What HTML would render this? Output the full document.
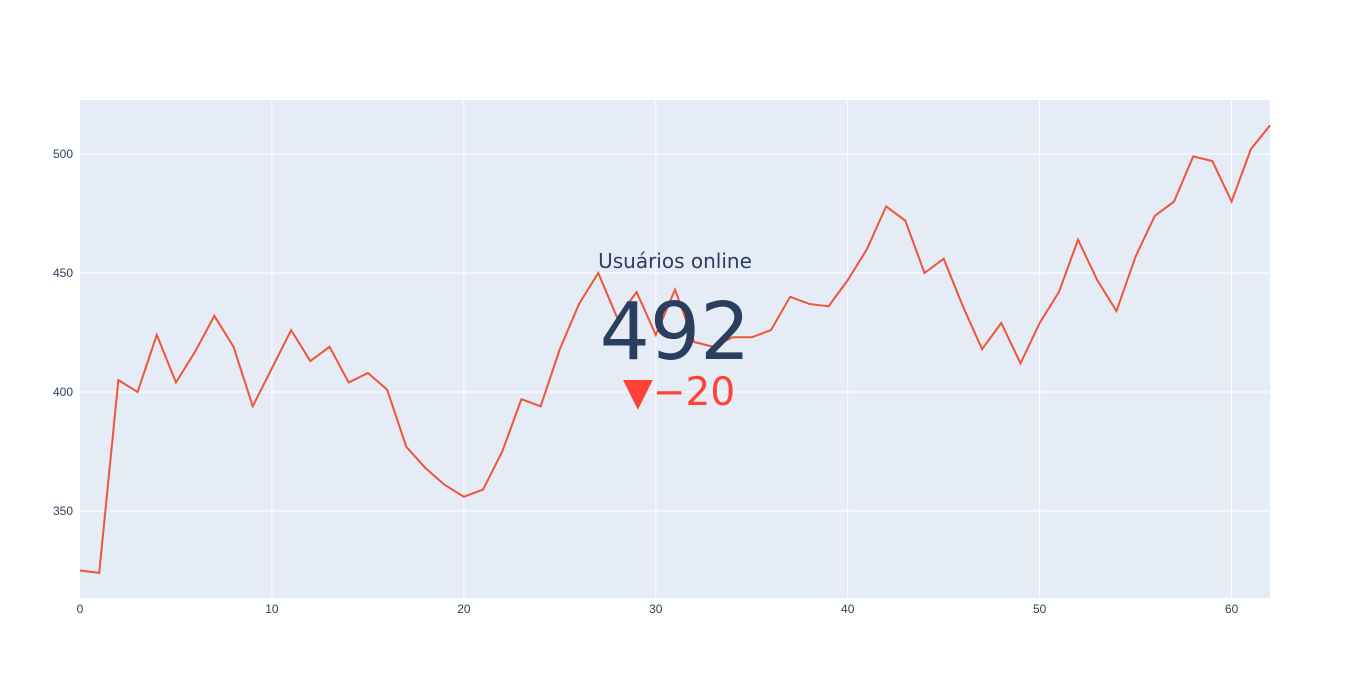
<!DOCTYPE html>
<html><head><meta charset="utf-8"><style>
body{margin:0;background:#fff;}
svg{display:block;font-family:"Liberation Sans","DejaVu Sans",sans-serif;}
</style></head><body>
<svg id="chart" width="1350" height="679">
<rect x="80" y="100" width="1190" height="498" fill="#e5ecf6"/>
<g id="grid"></g><g id="ticks"></g>
<path id="line" fill="none" stroke="#ef553b" stroke-width="2"/>
<text x="675" y="268" text-anchor="middle" font-size="20" fill="#2a3f5f" font-family="DejaVu Sans,sans-serif">Usuários online</text>
<text x="675" y="359" text-anchor="middle" font-size="79" fill="#2a3f5f" font-family="DejaVu Sans,sans-serif">492</text>
<text x="679" y="405" text-anchor="middle" font-size="39" fill="#ff4136" font-family="DejaVu Sans,sans-serif">▼−20</text>
</svg>
<script>
const xValues=[...Array(63).keys()];
const users=[325,324,405,400,424,404,417,432,419,394,410,426,413,419,404,408,401,377,368,361,356,359,375,397,394,418,437,450,431,442,424,443,421,419,423,423,426,440,437,436,447,460,478,472,450,456,436,418,429,412,429,442,464,447,434,457,474,480,499,497,480,502,512];
const xTicks=[0,10,20,30,40,50,60];
const yTicks=[350,400,450,500];
const X=v=>80+v*1190/62;
const Y=v=>392-(v-400)*119/50;
const NS='http://www.w3.org/2000/svg';
const grid=document.getElementById('grid'),ticks=document.getElementById('ticks');
xTicks.forEach(t=>{
 const l=document.createElementNS(NS,'line');
 l.setAttribute('x1',X(t));l.setAttribute('x2',X(t));l.setAttribute('y1',100);l.setAttribute('y2',598);
 l.setAttribute('stroke','#fff');l.setAttribute('stroke-width',t===0?0:1);
 
 
 grid.appendChild(l);
 const tx=document.createElementNS(NS,'text');
 tx.setAttribute('x',X(t));tx.setAttribute('y',613);tx.setAttribute('text-anchor','middle');
 tx.setAttribute('font-size',12);tx.setAttribute('fill','#2a3f5f');tx.textContent=t;
 
 
 ticks.appendChild(tx);
});
yTicks.forEach(t=>{
 const l=document.createElementNS(NS,'line');
 l.setAttribute('x1',80);l.setAttribute('x2',1270);l.setAttribute('y1',Y(t));l.setAttribute('y2',Y(t));
 l.setAttribute('stroke','#fff');l.setAttribute('stroke-width',1);
 
 
 grid.appendChild(l);
 const tx=document.createElementNS(NS,'text');
 tx.setAttribute('x',73);tx.setAttribute('y',Y(t)+4);tx.setAttribute('text-anchor','end');
 tx.setAttribute('font-size',12);tx.setAttribute('fill','#2a3f5f');tx.textContent=t;
 
 
 ticks.appendChild(tx);
});
document.getElementById('line').setAttribute('d',users.map((v,i)=>(i?'L':'M')+X(xValues[i])+','+Y(v)).join(''));
</script>
</body></html>
